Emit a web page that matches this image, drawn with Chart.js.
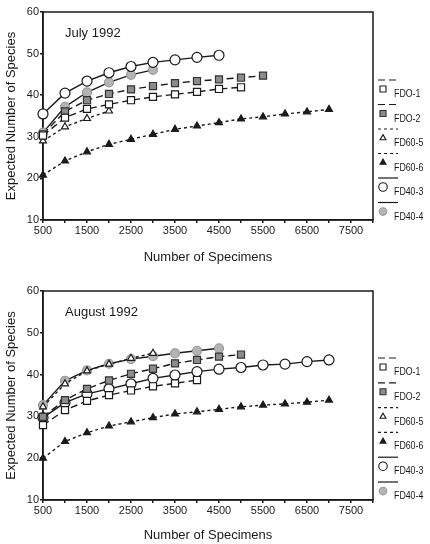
<!DOCTYPE html>
<html>
<head>
<meta charset="utf-8">
<script src="https://cdn.jsdelivr.net/npm/chart.js@4"></script>
<style>
  body { margin: 0; background: #fff; }
  .box { position: relative; width: 430px; height: 272px; }
</style>
</head>
<body>
<div class="box"><canvas id="chartJuly"></canvas></div>
<div class="box"><canvas id="chartAugust"></canvas></div>
<script>
// sample sizes (x values), paired by index with each series
const specimens = [500, 1000, 1500, 2000, 2500, 3000, 3500, 4000, 4500, 5000, 5500, 6000, 6500, 7000];
const seriesNames = ['FDO-1', 'FDO-2', 'FD60-5', 'FD60-6', 'FD40-3', 'FD40-4'];
const xTickLabels = [500, 1500, 2500, 3500, 4500, 5500, 6500, 7500];
const yTickLabels = [10, 20, 30, 40, 50, 60];

// July 1992
const julyFDO1 = [30.3, 34.6, 36.7, 37.8, 38.8, 39.6, 40.2, 40.8, 41.5, 41.9];
const julyFDO2 = [30.6, 36.1, 38.8, 40.3, 41.4, 42.2, 42.9, 43.4, 43.8, 44.2, 44.7];
const julyFD605 = [29.0, 32.4, 34.4, 36.2];
const julyFD606 = [20.8, 24.2, 26.4, 28.2, 29.4, 30.6, 31.8, 32.6, 33.4, 34.3, 34.8, 35.5, 36.0, 36.6];
const julyFD403 = [35.5, 40.5, 43.4, 45.4, 46.9, 47.9, 48.5, 49.1, 49.6];
const julyFD404 = [31.0, 37.2, 40.7, 43.1, 44.9, 46.1];

// August 1992
const augFDO1 = [27.9, 31.5, 33.7, 35.1, 36.2, 37.2, 37.9, 38.7];
const augFDO2 = [29.9, 33.9, 36.6, 38.6, 40.2, 41.4, 42.7, 43.5, 44.3, 44.8];
const augFD605 = [32.3, 37.8, 40.9, 42.5, 43.9, 45.1];
const augFD606 = [20.0, 24.0, 26.1, 27.7, 28.7, 29.7, 30.6, 31.1, 31.7, 32.3, 32.7, 33.0, 33.4, 33.9];
const augFD403 = [29.7, 33.3, 35.4, 36.6, 37.8, 39.1, 39.9, 40.7, 41.3, 41.7, 42.3, 42.5, 43.1, 43.5];
const augFD404 = [32.7, 38.5, 41.0, 42.6, 43.7, 44.4, 45.1, 45.7, 46.3];

const FONT = "'Liberation Sans', Arial, sans-serif";
const INK = '#1a1a1a';

// marker / line look per series
const looks = [
  { pointStyle: 'rect', radius: 5, fill: '#ffffff', stroke: INK, dash: [7, 4] },
  { pointStyle: 'rect', radius: 5, fill: '#8c8c8c', stroke: '#333333', dash: [7, 4] },
  { pointStyle: 'triangle', radius: 4, fill: '#ffffff', stroke: INK, dash: [3, 3] },
  { pointStyle: 'triangle', radius: 4, fill: INK, stroke: INK, dash: [3, 3] },
  { pointStyle: 'circle', radius: 5, fill: '#ffffff', stroke: INK, dash: [] },
  { pointStyle: 'circle', radius: 4.5, fill: '#b4b4b4', stroke: '#9a9a9a', dash: [] },
];

const toPoints = (vals) => vals.map((v, i) => ({ x: specimens[i], y: v }));

const buildDatasets = (allVals) => allVals.map((vals, i) => ({
  label: seriesNames[i],
  data: toPoints(vals),
  borderColor: INK,
  borderWidth: 1.4,
  borderDash: looks[i].dash,
  pointStyle: looks[i].pointStyle,
  pointRadius: looks[i].radius,
  pointBackgroundColor: looks[i].fill,
  pointBorderColor: looks[i].stroke,
  pointBorderWidth: 1.2,
  fill: false,
  clip: false,
  tension: 0,
}));

// frame, month label and the stacked legend on the right
const extras = {
  id: 'extras',
  beforeDatasetsDraw(chart) {
    const ctx = chart.ctx;
    const a = chart.chartArea;
    ctx.save();
    ctx.strokeStyle = INK;
    ctx.lineWidth = 1.5;
    ctx.strokeRect(a.left, a.top, a.right - a.left, a.bottom - a.top);
    ctx.restore();
  },
  afterDatasetsDraw(chart, args, opts) {
    const ctx = chart.ctx;
    const a = chart.chartArea;
    ctx.save();
    ctx.fillStyle = INK;
    ctx.font = '13px ' + FONT;
    ctx.textBaseline = 'middle';
    ctx.textAlign = 'left';
    ctx.fillText(opts.month, a.left + 22, a.top + 21);

    // legend
    const lx = a.right + 5;
    chart.data.datasets.forEach((ds, i) => {
      const y0 = opts.legendTop + i * opts.legendStep;
      ctx.setLineDash(ds.borderDash);
      ctx.lineWidth = 1.2;
      ctx.strokeStyle = INK;
      ctx.beginPath();
      ctx.moveTo(lx, y0);
      ctx.lineTo(lx + 20, y0);
      ctx.stroke();
      ctx.setLineDash([]);
      ctx.fillStyle = ds.pointBackgroundColor;
      ctx.strokeStyle = ds.pointBorderColor;
      ctx.lineWidth = 1.1;
      Chart.helpers.drawPoint(ctx, {
        pointStyle: ds.pointStyle,
        radius: ds.pointRadius * 0.85,
        rotation: 0,
        borderWidth: 1.1,
      }, lx + 5, y0 + 9);
      ctx.save();
      ctx.translate(lx + 16, y0 + 14);
      ctx.scale(0.8, 1);
      ctx.fillStyle = INK;
      ctx.font = '11px ' + FONT;
      ctx.fillText(ds.label, 0, 0);
      ctx.restore();
    });
    ctx.restore();
  }
};

const makeChart = (id, month, allVals, layout) => new Chart(document.getElementById(id), {
  type: 'line',
  data: { datasets: buildDatasets(allVals) },
  options: {
    responsive: true,
    maintainAspectRatio: false,
    animation: false,
    layout: { padding: { top: layout.top, right: 57, left: 0, bottom: 0 } },
    plugins: {
      legend: { display: false },
      tooltip: { enabled: false },
      extras: { month: month, legendTop: layout.legendTop, legendStep: layout.legendStep },
    },
    scales: {
      x: {
        type: 'linear',
        min: 500,
        max: 8000,
        afterBuildTicks: (s) => {
          s.ticks = [];
          for (let v = 500; v <= 8000; v += 500) s.ticks.push({ value: v });
        },
        afterFit: (s) => { s.height = layout.axisH; },
        ticks: {
          autoSkip: false,
          maxRotation: 0,
          padding: 1,
          color: INK,
          font: { family: FONT, size: 11 },
          callback: (v) => xTickLabels.includes(v) ? String(v) : '',
        },
        grid: { drawOnChartArea: false, tickLength: 3, color: INK, lineWidth: 1.5 },
        border: { display: true, color: INK, width: 1.5 },
        title: {
          display: true,
          text: 'Number of Specimens',
          color: INK,
          font: { family: FONT, size: 13 },
          padding: { top: 0, bottom: layout.titlePad },
        },
      },
      y: {
        min: 10,
        max: 60,
        afterBuildTicks: (s) => { s.ticks = yTickLabels.map(v => ({ value: v })); },
        afterFit: (s) => { s.width = 43; },
        ticks: {
          padding: 1,
          color: INK,
          font: { family: FONT, size: 11 },
        },
        grid: { drawOnChartArea: false, tickLength: 3, color: INK, lineWidth: 1.5 },
        border: { display: true, color: INK, width: 1.5 },
        title: {
          display: true,
          text: 'Expected Number of Species',
          color: INK,
          font: { family: FONT, size: 13 },
          padding: { top: 4, bottom: 0 },
        },
      },
    },
  },
  plugins: [extras],
});

makeChart('chartJuly', 'July 1992',
  [julyFDO1, julyFDO2, julyFD605, julyFD606, julyFD403, julyFD404],
  { top: 12, axisH: 52, titlePad: 7, legendTop: 80, legendStep: 24.5 });

makeChart('chartAugust', 'August 1992',
  [augFDO1, augFDO2, augFD605, augFD606, augFD403, augFD404],
  { top: 19, axisH: 44, titlePad: 1, legendTop: 86, legendStep: 24.8 });
</script>
</body>
</html>
